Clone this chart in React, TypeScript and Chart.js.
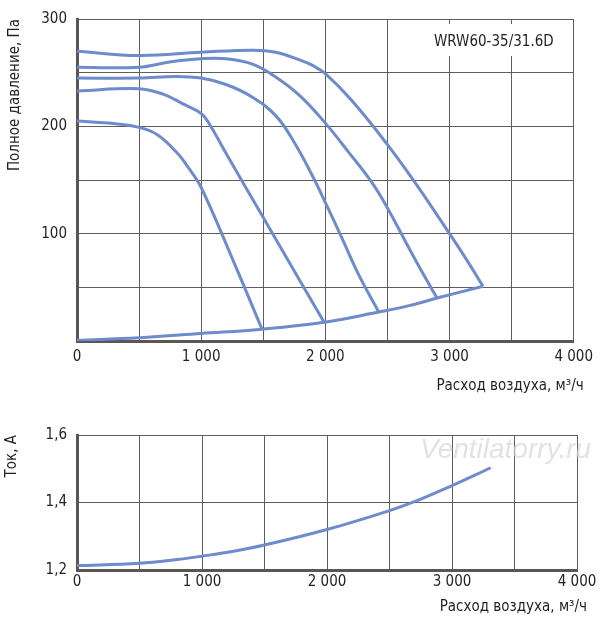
import React, { useEffect, useRef } from "react";
import { Chart, registerables, ChartConfiguration, Plugin } from "chart.js";

Chart.register(...registerables);

const FONT = '"Liberation Sans Narrow", "Arial Narrow", "DejaVu Sans Condensed", sans-serif';
const LINE = "#6e8bcb";
const GRID = "#5e5e5e";
const AXIS = "#5b5654";
const TEXT = "#231f20";

// pressure curves, m3/h -> Pa
const flow1 = [0, 250, 500, 650, 800, 900, 1000, 1250, 1490];
const pressure1 = [205, 203, 199, 192, 176, 161, 143, 77, 11];

const flow2 = [0, 500, 693, 853, 1000, 1067, 1200, 1500, 1990];
const pressure2 = [233, 235, 230, 221, 212, 202, 175, 115, 17.5];

const flow3 = [0, 500, 800, 1000, 1200, 1400, 1600, 1750, 1900, 2000, 2133, 2267, 2430];
const pressure3 = [245, 245, 246.5, 245, 239, 228, 210, 185, 153, 129, 96, 62, 27];

const flow4 = [0, 500, 747, 1000, 1200, 1413, 1600, 1800, 2000, 2187, 2373, 2500, 2667, 2800, 2900];
const pressure4 = [255, 255, 260, 263, 263, 258, 246, 228, 203, 176, 148, 124, 88, 60, 40];

const flow5 = [0, 500, 1000, 1413, 1600, 1813, 1893, 2000, 2213, 2500, 2720, 3000, 3147, 3270];
const pressure5 = [270, 266, 269, 271, 269, 261, 257, 249, 224, 183, 148, 100, 74, 51];

// network (system) curve
const flowSys = [0, 500, 1000, 1490, 1990, 2430, 2667, 2900, 3270];
const pressureSys = [0.6, 3, 7, 11, 17.5, 27, 32.7, 40, 51];

// current, A
const flowCur = [0, 500, 800, 1000, 1230, 1500, 2000, 2500, 2750, 3000, 3310];
const current = [1.213, 1.22, 1.231, 1.241, 1.254, 1.274, 1.32, 1.376, 1.41, 1.45, 1.503];

const modelName = "WRW60-35/31.6D";
const watermark = "Ventilatorry.ru";
const xTitle = "Расход воздуха, м³/ч";
const yTitleTop = "Полное давление, Па";
const yTitleBottom = "Ток, А";

Chart.defaults.font.family = FONT;
Chart.defaults.font.size = 15;
Chart.defaults.color = TEXT;

const toPoints = (xs: number[], ys: number[]) => xs.map((x, i) => ({ x, y: ys[i] }));

const lineSet = (xs: number[], ys: number[]) => ({
  data: toPoints(xs, ys),
  borderColor: LINE,
  borderWidth: 3,
  pointRadius: 0,
  fill: false,
  tension: 0.4,
});

const flowLabel = (v: number) => (v === 0 ? "0" : `${v / 1000} 000`);

// x axis title sits a bit right of the plot edge
const xTitleAt = (id: string, y: number): Plugin => ({
  id,
  afterDraw(chart) {
    const ctx = chart.ctx;
    ctx.save();
    ctx.fillStyle = TEXT;
    ctx.font = `15px ${FONT}`;
    ctx.textAlign = "right";
    ctx.textBaseline = "middle";
    ctx.fillText(xTitle, chart.chartArea.right + 10, y);
    ctx.restore();
  },
});

const modelLabel: Plugin = {
  id: "modelLabel",
  beforeDatasetsDraw(chart) {
    const ctx = chart.ctx;
    ctx.save();
    ctx.fillStyle = "#fff";
    ctx.fillRect(425, 24, 138, 32);
    ctx.fillStyle = TEXT;
    ctx.font = `15px ${FONT}`;
    ctx.textBaseline = "middle";
    ctx.fillText(modelName, 434, 42);
    ctx.restore();
  },
};

const watermarkLabel: Plugin = {
  id: "watermarkLabel",
  afterDraw(chart) {
    const ctx = chart.ctx;
    ctx.save();
    ctx.font = 'italic 28px "Liberation Sans", Arial, sans-serif';
    ctx.fillStyle = "rgba(214,214,214,0.7)";
    ctx.fillText(watermark, 420, 58);
    ctx.restore();
  },
};

const xScale = (tickPad: number, height: number) => ({
  type: "linear" as const,
  min: 0,
  max: 4000,
  afterFit: (s: any) => {
    s.height = height;
  },
  ticks: {
    stepSize: 500,
    autoSkip: false,
    maxRotation: 0,
    padding: tickPad,
    callback: (v: any) => (Number(v) % 1000 === 0 ? flowLabel(Number(v)) : ""),
  },
  grid: { color: GRID, lineWidth: 1, drawTicks: false },
  border: { color: AXIS, width: 3 },
});

const App: React.FC = () => {
  const topRef = useRef<HTMLCanvasElement>(null);
  const bottomRef = useRef<HTMLCanvasElement>(null);

  useEffect(() => {
    if (!topRef.current || !bottomRef.current) return;

    const topConfig: ChartConfiguration = {
      type: "line",
      data: {
        datasets: [
          lineSet(flow1, pressure1),
          lineSet(flow2, pressure2),
          lineSet(flow3, pressure3),
          lineSet(flow4, pressure4),
          lineSet(flow5, pressure5),
          lineSet(flowSys, pressureSys),
        ],
      },
      options: {
        animation: false,
        responsive: false,
        maintainAspectRatio: false,
        layout: { padding: { top: 13, right: 23, left: 0, bottom: 0 } },
        plugins: { legend: { display: false }, tooltip: { enabled: false } },
        scales: {
          x: xScale(7, 59),
          y: {
            min: 0,
            max: 300,
            afterFit: (s: any) => {
              s.width = 77;
            },
            ticks: {
              stepSize: 50,
              padding: 10,
              callback: (v: any) => (Number(v) % 100 === 0 && Number(v) > 0 ? String(v) : ""),
            },
            grid: { color: GRID, lineWidth: 1, drawTicks: false },
            border: { color: AXIS, width: 3 },
            title: { display: true, text: yTitleTop, align: "end", padding: { top: 6, bottom: 0 } },
          },
        },
      } as any,
      plugins: [modelLabel, xTitleAt("xTitleTop", 386)],
    };

    const bottomConfig: ChartConfiguration = {
      type: "line",
      data: { datasets: [lineSet(flowCur, current)] },
      options: {
        animation: false,
        responsive: false,
        maintainAspectRatio: false,
        layout: { padding: { top: 35, right: 23, left: 0, bottom: 0 } },
        plugins: { legend: { display: false }, tooltip: { enabled: false } },
        scales: {
          x: xScale(3, 49),
          y: {
            min: 1.2,
            max: 1.6,
            afterFit: (s: any) => {
              s.width = 77;
            },
            ticks: {
              stepSize: 0.2,
              padding: 10,
              callback: (v: any) => Number(v).toFixed(1).replace(".", ","),
            },
            grid: { color: GRID, lineWidth: 1, drawTicks: false },
            border: { color: AXIS, width: 3 },
            title: { display: true, text: yTitleBottom, align: "end", padding: { top: 3, bottom: 0 } },
          },
        },
      } as any,
      plugins: [watermarkLabel, xTitleAt("xTitleBottom", 207)],
    };

    const top = new Chart(topRef.current, topConfig);
    const bottom = new Chart(bottomRef.current, bottomConfig);

    return () => {
      top.destroy();
      bottom.destroy();
    };
  }, []);

  return (
    <div style={{ position: "absolute", left: 0, top: 0, width: 600, height: 619, background: "#fff" }}>
      <canvas ref={topRef} width={600} height={400} style={{ display: "block" }} />
      <canvas ref={bottomRef} width={600} height={219} style={{ display: "block" }} />
    </div>
  );
};

export default App;
